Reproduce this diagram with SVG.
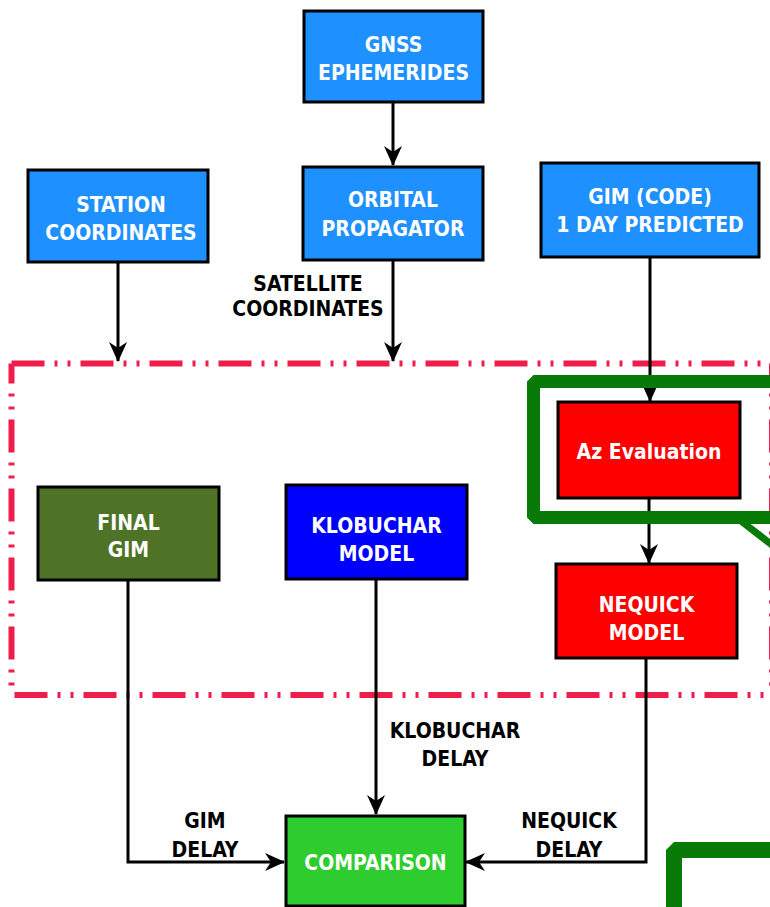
<svg xmlns="http://www.w3.org/2000/svg" width="770" height="907" viewBox="0 0 770 907">
<style>
.box{stroke:#000;stroke-width:3}
.blue{fill:#1E90FF}
.nt,.lt{font-family:"DejaVu Sans Condensed","DejaVu Sans","Liberation Sans",sans-serif;font-stretch:condensed;font-weight:bold;font-size:21px;text-anchor:middle}
.nt{fill:#fff}
.lt{fill:#000}
.con{fill:none;stroke:#000;stroke-width:3}
.dd{fill:none;stroke:#EE1D4A;stroke-width:6;stroke-dasharray:33 10 3 10 3 10}
.hl{fill:none;stroke:#087A08;stroke-linejoin:bevel}
</style>
<defs>
<marker id="arr" markerUnits="userSpaceOnUse" markerWidth="20" markerHeight="18" viewBox="0 0 20 18" refX="19" refY="9" orient="auto">
<path d="M0,0 L20,9 L0,18 L6,9 Z" fill="#000"/>
</marker>
</defs>

<g id="region">
<path class="dd" d="M11.5,363.5 H775"/>
<path class="dd" d="M11.5,363.5 V695" stroke-dashoffset="13"/>
<path class="dd" d="M11.5,695 H775" stroke-dashoffset="-3"/>
<path class="dd" d="M772,363.5 V695" stroke-dashoffset="13"/>
</g>

<g id="connectors">
<path class="con" d="M393,102 V165" marker-end="url(#arr)"/>
<path class="con" d="M118,262 V361" marker-end="url(#arr)"/>
<path class="con" d="M393,260 V361" marker-end="url(#arr)"/>
<path class="con" d="M650,257 V401" marker-end="url(#arr)"/>
<path class="con" d="M649,498 V563" marker-end="url(#arr)"/>
<path class="con" d="M128,580 V862 H284" marker-end="url(#arr)"/>
<path class="con" d="M376,579 V814" marker-end="url(#arr)"/>
<path class="con" d="M646,658 V862 H466" marker-end="url(#arr)"/>
</g>

<g id="n-gnss">
<rect class="box blue" x="304" y="11" width="179" height="91"/>
<text class="nt" x="393.5" y="52">GNSS</text>
<text class="nt" x="393.5" y="80">EPHEMERIDES</text>
</g>
<g id="n-station">
<rect class="box blue" x="28" y="170" width="180" height="92"/>
<text class="nt" x="121" y="212">STATION</text>
<text class="nt" x="121" y="240">COORDINATES</text>
</g>
<g id="n-orbital">
<rect class="box blue" x="303" y="167" width="180" height="93"/>
<text class="nt" x="393" y="207">ORBITAL</text>
<text class="nt" x="393" y="236">PROPAGATOR</text>
</g>
<g id="n-gimcode">
<rect class="box blue" x="541" y="163" width="218" height="94"/>
<text class="nt" x="650" y="204">GIM (CODE)</text>
<text class="nt" x="650" y="232">1 DAY PREDICTED</text>
</g>
<g id="l-sat">
<text class="lt" x="308" y="291">SATELLITE</text>
<text class="lt" x="308" y="316">COORDINATES</text>
</g>
<g id="n-finalgim">
<rect class="box" fill="#4E7327" x="38" y="487" width="181" height="93"/>
<text class="nt" x="128.5" y="530">FINAL</text>
<text class="nt" x="128.5" y="557">GIM</text>
</g>
<g id="n-klobuchar">
<rect class="box" fill="#0000FF" x="286" y="485" width="181" height="94"/>
<text class="nt" x="376.5" y="533">KLOBUCHAR</text>
<text class="nt" x="376.5" y="561">MODEL</text>
</g>
<g id="n-az">
<rect class="box" fill="#FF0000" x="558" y="402" width="182" height="96"/>
<text class="nt" x="649" y="459">Az Evaluation</text>
</g>
<g id="n-nequick">
<rect class="box" fill="#FF0000" x="556" y="564" width="181" height="94"/>
<text class="nt" x="646.5" y="612">NEQUICK</text>
<text class="nt" x="646.5" y="640">MODEL</text>
</g>
<g id="n-comparison">
<rect class="box" fill="#2ECC2E" x="286" y="816" width="179" height="90"/>
<text class="nt" x="375.5" y="870">COMPARISON</text>
</g>
<g id="labels">
<text class="lt" x="455" y="738">KLOBUCHAR</text>
<text class="lt" x="455" y="766">DELAY</text>
<text class="lt" x="205" y="828">GIM</text>
<text class="lt" x="205" y="857">DELAY</text>
<text class="lt" x="569" y="828">NEQUICK</text>
<text class="lt" x="569" y="857">DELAY</text>
</g>
<g id="highlights">
<path class="hl" stroke-width="13" d="M800,381.5 H533.5 V517.5 H800"/>
<path class="hl" stroke-width="7" d="M741,521 L785,555"/>
<path class="hl" stroke-width="16" d="M674,920 V850 H800"/>
</g>
</svg>
